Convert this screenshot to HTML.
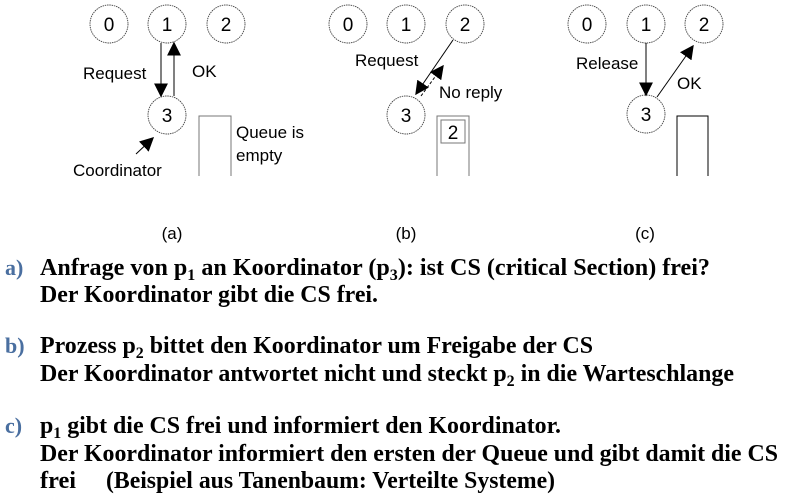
<!DOCTYPE html>
<html><head><meta charset="utf-8"><style>
html,body{margin:0;padding:0;background:#fff;}
svg{display:block;}
.d{font-family:"Liberation Sans",sans-serif;font-size:17px;fill:#000;}
.n{font-family:"Liberation Sans",sans-serif;font-size:19px;fill:#000;}
.t{font-family:"Liberation Serif",serif;font-weight:bold;font-size:24px;fill:#000;}
.l{font-family:"Liberation Serif",serif;font-weight:bold;font-size:22px;fill:#4a6fa0;}
</style></head><body>
<svg width="785" height="499" viewBox="0 0 785 499" xmlns="http://www.w3.org/2000/svg">
<defs>
<marker id="ah" viewBox="0 0 10 10" refX="9" refY="5" markerWidth="14" markerHeight="14" markerUnits="userSpaceOnUse" orient="auto"><path d="M0,0 L10,5 L0,10 z" fill="#000"/></marker>
</defs>
<g fill="none" stroke="#444" stroke-width="0.9" stroke-dasharray="1.5,0.8">
<circle cx="109" cy="24" r="19"/><circle cx="167" cy="24" r="19"/><circle cx="226" cy="24" r="19"/><circle cx="167" cy="115" r="19"/>
<circle cx="348" cy="24" r="19"/><circle cx="406" cy="24" r="19"/><circle cx="465" cy="24" r="19"/><circle cx="406" cy="115" r="19"/>
<circle cx="587" cy="24" r="19"/><circle cx="646" cy="24" r="19"/><circle cx="704" cy="24" r="19"/><circle cx="646" cy="114" r="19"/>
</g>
<g class="n" text-anchor="middle">
<text x="109" y="31">0</text><text x="167" y="31">1</text><text x="226" y="31">2</text><text x="167" y="122">3</text>
<text x="348" y="31">0</text><text x="406" y="31">1</text><text x="465" y="31">2</text><text x="406" y="122">3</text>
<text x="587" y="31">0</text><text x="646" y="31">1</text><text x="704" y="31">2</text><text x="646" y="121">3</text>
</g>
<g stroke="#000" stroke-width="1" fill="none">
<line x1="161" y1="43" x2="161" y2="96" marker-end="url(#ah)"/>
<line x1="174" y1="96" x2="174" y2="43" marker-end="url(#ah)"/>
<line x1="136" y1="154" x2="153" y2="138" marker-end="url(#ah)"/>
<line x1="453" y1="40" x2="416" y2="94" marker-end="url(#ah)"/>
<line x1="421" y1="96" x2="443" y2="66" stroke-dasharray="3,2" marker-end="url(#ah)"/>
<line x1="646" y1="43" x2="646" y2="95" marker-end="url(#ah)"/>
<line x1="657" y1="97" x2="693" y2="46" marker-end="url(#ah)"/>
</g>
<g fill="none" stroke="#777" stroke-width="1">
<polyline points="199,176 199,116 231,116 231,176"/>
<polyline points="437,176 437,116 469,116 469,176"/>
<rect x="441" y="120" width="24" height="23"/>
</g>
<polyline points="677,176 677,116 708,116 708,176" fill="none" stroke="#000" stroke-width="1"/>
<g class="d">
<text x="83" y="79">Request</text>
<text x="192" y="77">OK</text>
<text x="236" y="138">Queue is</text>
<text x="236" y="161">empty</text>
<text x="73" y="176">Coordinator</text>
<text x="355" y="66">Request</text>
<text x="439" y="98">No reply</text>
<text class="n" x="453" y="139" text-anchor="middle">2</text>
<text x="576" y="69">Release</text>
<text x="677" y="89">OK</text>
<text x="172" y="239" text-anchor="middle">(a)</text>
<text x="406" y="239" text-anchor="middle">(b)</text>
<text x="645" y="239" text-anchor="middle">(c)</text>
</g>
<text class="l" x="5" y="275">a)</text>
<text class="l" x="5" y="353">b)</text>
<text class="l" x="5" y="433">c)</text>
<text class="t" x="40" y="275" textLength="670" lengthAdjust="spacingAndGlyphs">Anfrage von p<tspan font-size="16" dy="5">1</tspan><tspan dy="-5"> an Koordinator (p</tspan><tspan font-size="16" dy="5">3</tspan><tspan dy="-5">): ist CS (critical Section) frei?</tspan></text>
<text class="t" x="40" y="302" textLength="338" lengthAdjust="spacingAndGlyphs">Der Koordinator gibt die CS frei.</text>
<text class="t" x="40" y="353" textLength="553" lengthAdjust="spacingAndGlyphs">Prozess p<tspan font-size="16" dy="5">2</tspan><tspan dy="-5"> bittet den Koordinator um Freigabe der CS</tspan></text>
<text class="t" x="40" y="381" textLength="694" lengthAdjust="spacingAndGlyphs">Der Koordinator antwortet nicht und steckt p<tspan font-size="16" dy="5">2</tspan><tspan dy="-5"> in die Warteschlange</tspan></text>
<text class="t" x="40" y="433" textLength="521" lengthAdjust="spacingAndGlyphs">p<tspan font-size="16" dy="5">1</tspan><tspan dy="-5"> gibt die CS frei und informiert den Koordinator.</tspan></text>
<text class="t" x="40" y="461" textLength="738" lengthAdjust="spacingAndGlyphs">Der Koordinator informiert den ersten der Queue und gibt damit die CS</text>
<text class="t" x="40" y="488" textLength="36" lengthAdjust="spacingAndGlyphs">frei</text>
<text class="t" x="106" y="488" textLength="449" lengthAdjust="spacingAndGlyphs">(Beispiel aus Tanenbaum: Verteilte Systeme)</text>
</svg>
</body></html>
